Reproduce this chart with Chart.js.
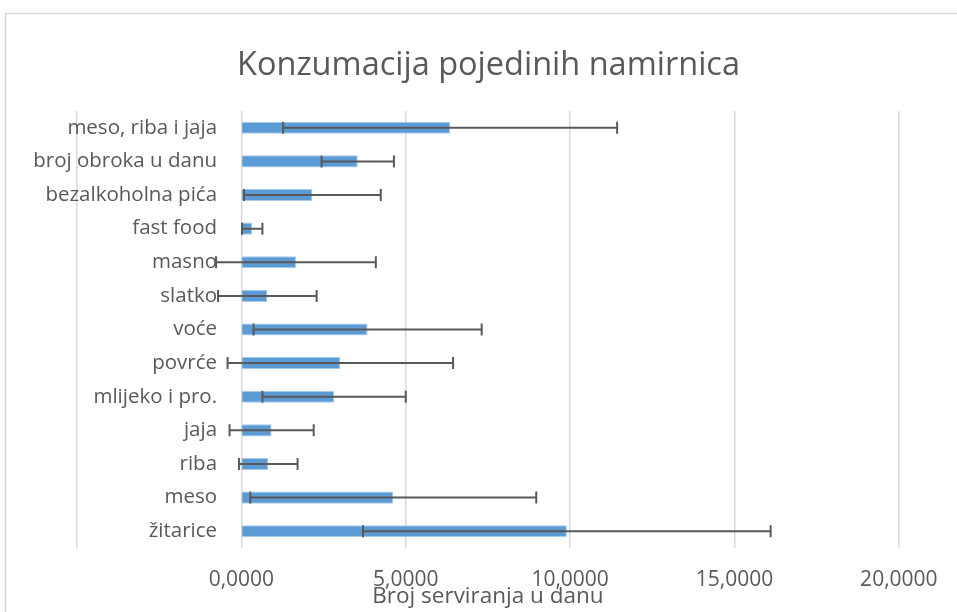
<!DOCTYPE html>
<html><head><meta charset="utf-8">
<script src="https://cdn.jsdelivr.net/npm/chart.js@4/dist/chart.umd.min.js"></script>
<style>html,body{margin:0;padding:0;background:#fff;overflow:hidden}</style>
</head><body>
<canvas id="c" width="957" height="612" style="display:block;width:957px;height:612px"></canvas>
<script>
// Categories listed top to bottom as shown in the chart
const categories = ['meso, riba i jaja','broj obroka u danu','bezalkoholna pića','fast food','masno','slatko','voće','povrće','mlijeko i pro.','jaja','riba','meso','žitarice'];
// Mean servings per day
const means = [6.35, 3.54, 2.16, 0.33, 1.66, 0.79, 3.84, 3.01, 2.82, 0.92, 0.82, 4.62, 9.90];
// Standard deviation (symmetric error bars)
const stdDevs = [5.08, 1.10, 2.08, 0.31, 2.43, 1.50, 3.47, 3.43, 2.18, 1.28, 0.89, 4.35, 6.20];
// X axis tick values and labels
const xTickValues = [-5, 0, 5, 10, 15, 20];
const xTickLabels = ['', '0,0000', '5,0000', '10,0000', '15,0000', '20,0000'];

const FONT = 'Open Sans';
const GREY = '#595959';

const framePlugin = {
  id: 'frame',
  beforeDraw(chart) {
    const ctx = chart.ctx;
    ctx.save();
    ctx.fillStyle = '#fff';
    ctx.fillRect(0, 0, chart.width, chart.height);
    ctx.strokeStyle = '#D9D9D9';
    ctx.lineWidth = 1.5;
    ctx.strokeRect(5.5, 13.5, 1200, 900);
    ctx.restore();
  }
};

const errorBarPlugin = {
  id: 'errorBars',
  afterDatasetsDraw(chart) {
    const ctx = chart.ctx;
    const xs = chart.scales.x;
    const meta = chart.getDatasetMeta(0);
    ctx.save();
    ctx.strokeStyle = GREY;
    ctx.lineWidth = 2;
    meta.data.forEach((bar, i) => {
      const y = bar.y;
      const lo = xs.getPixelForValue(means[i] - stdDevs[i]);
      const hi = xs.getPixelForValue(means[i] + stdDevs[i]);
      ctx.beginPath();
      ctx.moveTo(lo, y); ctx.lineTo(hi, y);
      ctx.moveTo(lo, y - 6); ctx.lineTo(lo, y + 6);
      ctx.moveTo(hi, y - 6); ctx.lineTo(hi, y + 6);
      ctx.stroke();
    });
    ctx.restore();
  }
};

new Chart(document.getElementById('c'), {
  type: 'bar',
  data: {
    labels: categories,
    datasets: [{
      data: means,
      backgroundColor: '#5B9BD5',
      borderColor: '#A8CBEA',
      borderWidth: 1,
      categoryPercentage: 1,
      barPercentage: 0.36
    }]
  },
  options: {
    indexAxis: 'y',
    responsive: false,
    animation: false,
    devicePixelRatio: 1,
    layout: { padding: { left: 77, right: 57, top: 0, bottom: 0 } },
    plugins: {
      legend: { display: false },
      tooltip: { enabled: false },
      title: {
        display: true,
        text: 'Konzumacija pojedinih namirnica',
        color: GREY,
        font: { family: FONT, size: 32.5, weight: 'normal', lineHeight: 1.2 },
        padding: { top: 46, bottom: 26 }
      }
    },
    scales: {
      x: {
        type: 'linear',
        min: -5, max: 20,
        afterBuildTicks: (s) => { s.ticks = xTickValues.map(v => ({ value: v })); },
        ticks: {
          callback: (v, i) => xTickLabels[i],
          color: GREY,
          font: { family: FONT, size: 21, lineHeight: 1.2 },
          padding: 19.4,
          maxRotation: 0,
          autoSkip: false
        },
        grid: { color: '#D9D9D9', lineWidth: 1.5, drawTicks: false },
        border: { display: false },
        title: {
          display: true,
          text: 'Broj serviranja u danu',
          color: GREY,
          font: { family: FONT, size: 22.5, lineHeight: 1.2 },
          padding: { top: -29.4, bottom: 2.4 }
        }
      },
      y: {
        position: { x: -0.74 },
        grid: { display: false, drawTicks: false },
        border: { display: false },
        ticks: { color: GREY, font: { family: FONT, size: 20.5 }, padding: 0, autoSkip: false }
      }
    }
  },
  plugins: [framePlugin, errorBarPlugin]
});
</script>
</body></html>
